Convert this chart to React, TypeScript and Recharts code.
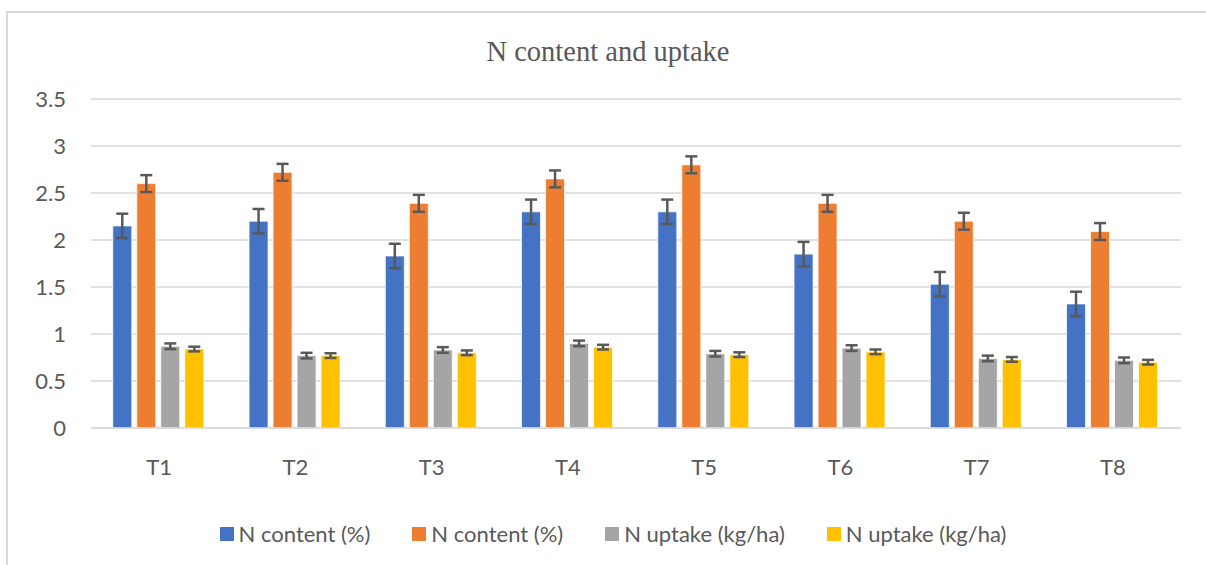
import { BarChart, Bar, XAxis, YAxis, CartesianGrid, ErrorBar } from 'recharts'

const categories = ['T1', 'T2', 'T3', 'T4', 'T5', 'T6', 'T7', 'T8']
const nContentA = [2.15, 2.2, 1.83, 2.3, 2.3, 1.85, 1.53, 1.32]
const nContentB = [2.6, 2.72, 2.39, 2.65, 2.8, 2.39, 2.2, 2.09]
const nUptakeA = [0.87, 0.77, 0.83, 0.9, 0.79, 0.85, 0.74, 0.72]
const nUptakeB = [0.84, 0.77, 0.8, 0.86, 0.78, 0.81, 0.73, 0.7]
const errContentA = [0.13, 0.13, 0.13, 0.13, 0.13, 0.13, 0.13, 0.13]
const errContentB = [0.09, 0.09, 0.09, 0.09, 0.09, 0.09, 0.09, 0.09]
const errUptakeA = [0.03, 0.03, 0.03, 0.03, 0.03, 0.03, 0.03, 0.03]
const errUptakeB = [0.025, 0.025, 0.025, 0.025, 0.025, 0.025, 0.025, 0.025]
const yTicks = [0, 0.5, 1, 1.5, 2, 2.5, 3, 3.5]

const SERIES = [
  { key: 'ncA', err: 'ncAErr', name: 'N content (%)', color: '#4472C4' },
  { key: 'ncB', err: 'ncBErr', name: 'N content (%)', color: '#ED7D31' },
  { key: 'nuA', err: 'nuAErr', name: 'N uptake (kg/ha)', color: '#A5A5A5' },
  { key: 'nuB', err: 'nuBErr', name: 'N uptake (kg/ha)', color: '#FFC000' },
]

const data = categories.map((c, i) => ({
  cat: c,
  ncA: nContentA[i],
  ncB: nContentB[i],
  nuA: nUptakeA[i],
  nuB: nUptakeB[i],
  ncAErr: errContentA[i],
  ncBErr: errContentB[i],
  nuAErr: errUptakeA[i],
  nuBErr: errUptakeB[i],
}))

const FONT = 'Lato, "Noto Sans", sans-serif'
const TEXT = '#595959'

export default function App() {
  return (
    <div
      style={{
        position: 'fixed',
        left: 0,
        top: 0,
        width: 1206,
        height: 565,
        overflow: 'hidden',
        background: '#fff',
        fontFamily: FONT,
      }}
    >
      {/* chart frame: only the top and left edges show in the crop */}
      <div style={{ position: 'absolute', left: 6, top: 11, width: 1200, height: 2, background: '#d9d9d9' }} />
      <div style={{ position: 'absolute', left: 6, top: 11, width: 2, height: 554, background: '#d9d9d9' }} />
      <div
        style={{
          position: 'absolute',
          left: 0,
          top: 36,
          width: 1216,
          textAlign: 'center',
          fontFamily: '"Liberation Serif", serif',
          fontSize: 28.5,
          lineHeight: '32px',
          color: TEXT,
        }}
      >
        N content and uptake
      </div>
      <div style={{ position: 'absolute', left: 0, top: 0 }}>
        <BarChart
          width={1206}
          height={565}
          data={data}
          margin={{ top: 99, right: 25, bottom: 107, left: 11 }}
          barCategoryGap="16%"
          barGap={5}
        >
          <CartesianGrid vertical={false} stroke="#d9d9d9" strokeWidth={1.5} />
          <XAxis
            dataKey="cat"
            height={30}
            axisLine={{ stroke: '#d9d9d9', strokeWidth: 1.5 }}
            tickLine={false}
            tickMargin={25}
            tick={{ fontSize: 22, fill: TEXT, fontFamily: FONT }}
          />
          <YAxis
            width={80}
            domain={[0, 3.5]}
            ticks={yTicks}
            axisLine={false}
            tickLine={false}
            tickMargin={19}
            tick={{ fontSize: 22, fill: TEXT, fontFamily: FONT }}
          />
          {SERIES.map((s) => (
            <Bar
              key={s.key}
              dataKey={s.key}
              name={s.name}
              fill={s.color}
              stroke="#ffffff"
              strokeWidth={0.75}
              isAnimationActive={false}
            >
              <ErrorBar
                dataKey={s.err}
                width={6}
                stroke="#595959"
                strokeWidth={2.5}
                direction="y"
              />
            </Bar>
          ))}
        </BarChart>
      </div>
      <div
        style={{
          position: 'absolute',
          left: 0,
          top: 521,
          width: 1226,
          display: 'flex',
          justifyContent: 'center',
          gap: 42,
          fontSize: 22,
          lineHeight: '26px',
          color: TEXT,
        }}
      >
        {SERIES.map((s) => (
          <div key={s.key} style={{ display: 'flex', alignItems: 'center', gap: 5 }}>
            <span style={{ width: 14, height: 14, background: s.color, display: 'inline-block' }} />
            <span>{s.name}</span>
          </div>
        ))}
      </div>
    </div>
  )
}
